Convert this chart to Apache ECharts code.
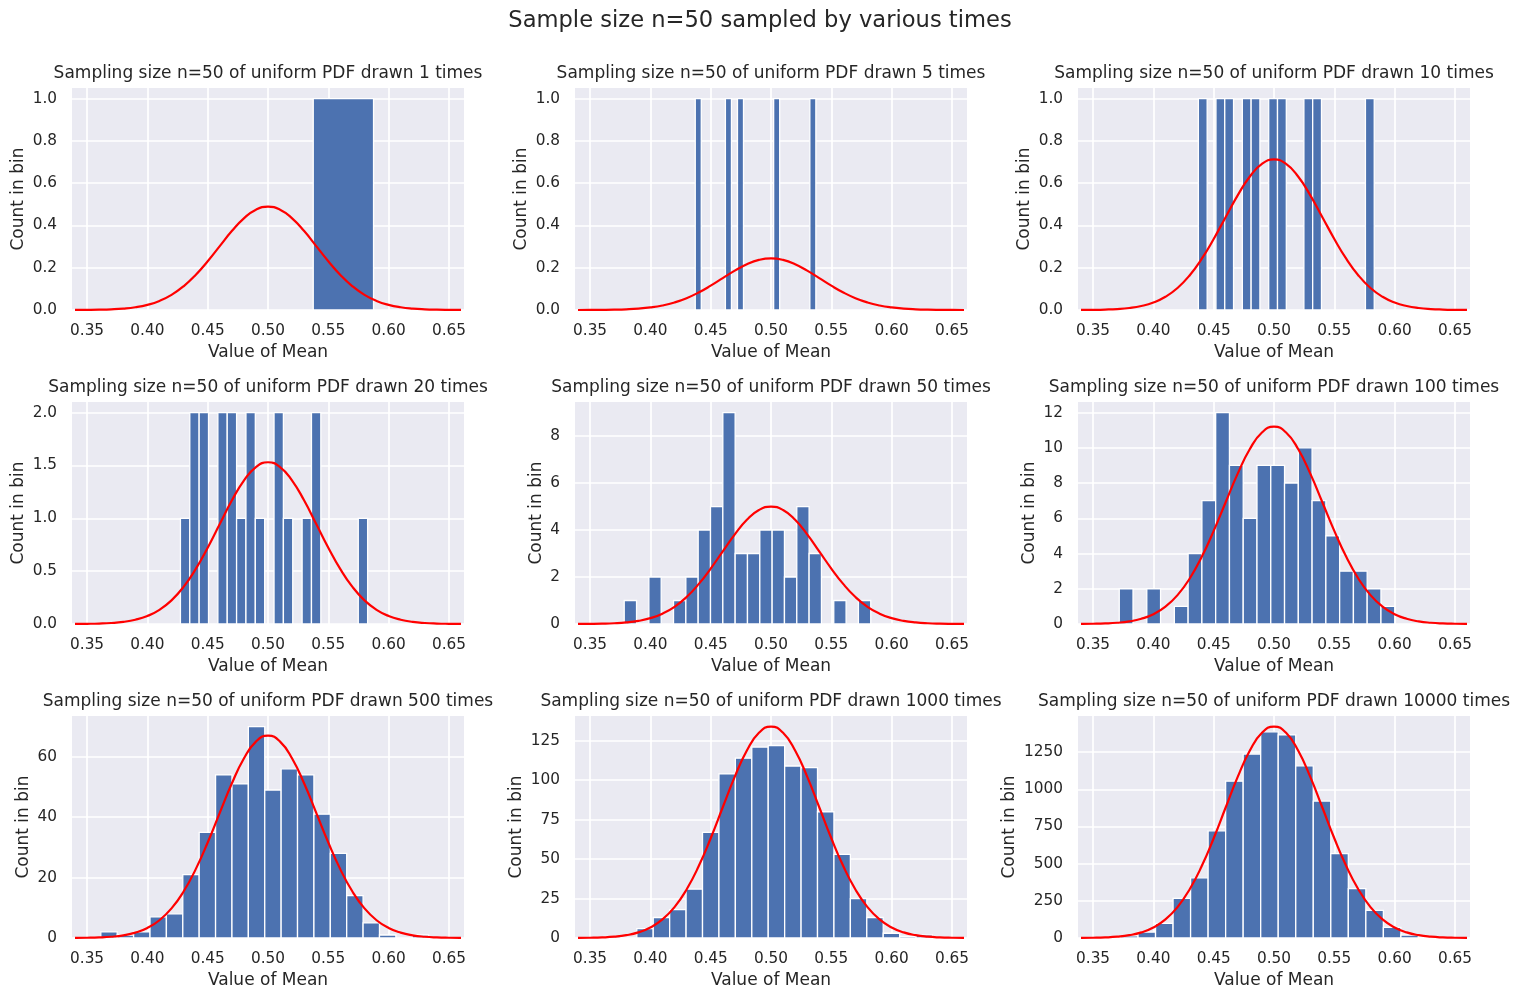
<!DOCTYPE html>
<html>
<head>
<meta charset="utf-8">
<title>Sample size n=50 sampled by various times</title>
<script src="https://cdn.jsdelivr.net/npm/echarts@6/dist/echarts.min.js"></script>
<style>
  html, body { margin: 0; padding: 0; background: #ffffff; }
  #main { width: 1520px; height: 999px; }
</style>
</head>
<body>
<div id="main"></div>
<script>
// how many sample means each panel holds
const drawTimes = [1, 5, 10, 20, 50, 100, 500, 1000, 10000];

// 20 bins per histogram: first edge and bin width
const binStart = [0.0375, 0.4372, 0.4373, 0.4274, 0.3783, 0.3717, 0.3614, 0.3615, 0.3582];
const binWidth = [0.05, 0.005, 0.00729, 0.00776, 0.01022, 0.01142, 0.01359, 0.01362, 0.01453];

// counts in bin
const counts1 = [0, 0, 0, 0, 0, 0, 0, 0, 0, 0, 1, 0, 0, 0, 0, 0, 0, 0, 0, 0];
const counts2 = [1, 0, 0, 0, 0, 1, 0, 1, 0, 0, 0, 0, 0, 1, 0, 0, 0, 0, 0, 1];
const counts3 = [1, 0, 1, 1, 0, 1, 1, 0, 1, 1, 0, 0, 1, 1, 0, 0, 0, 0, 0, 1];
const counts4 = [1, 2, 2, 0, 2, 2, 1, 2, 1, 0, 2, 1, 0, 1, 2, 0, 0, 0, 0, 1];
const counts5 = [1, 0, 2, 0, 1, 2, 4, 5, 9, 3, 3, 4, 4, 2, 5, 3, 0, 1, 0, 1];
const counts6 = [2, 0, 2, 0, 1, 4, 7, 12, 9, 6, 9, 9, 8, 10, 7, 5, 3, 3, 2, 1];
const counts7 = [2, 1, 2, 7, 8, 21, 35, 54, 51, 70, 49, 56, 54, 41, 28, 14, 5, 1, 0, 1];
const counts8 = [1, 0, 6, 13, 18, 31, 67, 104, 114, 121, 122, 109, 108, 80, 53, 25, 13, 3, 1, 2];
const counts9 = [3, 14, 40, 99, 267, 405, 721, 1055, 1237, 1387, 1366, 1158, 921, 567, 332, 186, 71, 20, 7, 1];

// red normal curve, sampled every 0.01
const curveX = [0.34, 0.35, 0.36, 0.37, 0.38, 0.39, 0.40, 0.41, 0.42, 0.43, 0.44, 0.45, 0.46, 0.47, 0.48, 0.49, 0.50,
                0.51, 0.52, 0.53, 0.54, 0.55, 0.56, 0.57, 0.58, 0.59, 0.60, 0.61, 0.62, 0.63, 0.64, 0.65, 0.66];
const curve1 = [0.0002, 0.0006, 0.0014, 0.0031, 0.0065, 0.0129, 0.0243, 0.0429, 0.0715, 0.1122, 0.1658, 0.2308, 0.3024, 0.3732, 0.4336, 0.4745, 0.489,
                0.4745, 0.4336, 0.3732, 0.3024, 0.2308, 0.1658, 0.1122, 0.0715, 0.0429, 0.0243, 0.0129, 0.0065, 0.0031, 0.0014, 0.0006, 0.0002];
const curve2 = [0.0001, 0.0003, 0.0007, 0.0015, 0.0032, 0.0064, 0.0121, 0.0214, 0.0357, 0.0560, 0.0827, 0.1151, 0.1509, 0.1862, 0.2164, 0.2368, 0.244,
                0.2368, 0.2164, 0.1862, 0.1509, 0.1151, 0.0827, 0.0560, 0.0357, 0.0214, 0.0121, 0.0064, 0.0032, 0.0015, 0.0007, 0.0003, 0.0001];
const curve3 = [0.0003, 0.0008, 0.0020, 0.0044, 0.0094, 0.0188, 0.0353, 0.0625, 0.1042, 0.1634, 0.2414, 0.3360, 0.4403, 0.5434, 0.6314, 0.6909, 0.712,
                0.6909, 0.6314, 0.5434, 0.4403, 0.3360, 0.2414, 0.1634, 0.1042, 0.0625, 0.0353, 0.0188, 0.0094, 0.0044, 0.0020, 0.0008, 0.0003];
const curve4 = [0.0007, 0.0018, 0.0042, 0.0095, 0.0202, 0.0404, 0.0759, 0.1343, 0.2238, 0.3511, 0.5188, 0.7220, 0.9462, 1.1677, 1.3568, 1.4847, 1.53,
                1.4847, 1.3568, 1.1677, 0.9462, 0.7220, 0.5188, 0.3511, 0.2238, 0.1343, 0.0759, 0.0404, 0.0202, 0.0095, 0.0042, 0.0018, 0.0007];
const curve5 = [0.0023, 0.0058, 0.0139, 0.0312, 0.0662, 0.132, 0.248, 0.439, 0.732, 1.148, 1.696, 2.360, 3.092, 3.816, 4.434, 4.852, 5.0,
                4.852, 4.434, 3.816, 3.092, 2.360, 1.696, 1.148, 0.732, 0.439, 0.248, 0.132, 0.0662, 0.0312, 0.0139, 0.0058, 0.0023];
const curve6 = [0.0052, 0.013, 0.031, 0.070, 0.148, 0.296, 0.556, 0.983, 1.639, 2.570, 3.798, 5.285, 6.926, 8.548, 9.932, 10.868, 11.2,
                10.868, 9.932, 8.548, 6.926, 5.285, 3.798, 2.570, 1.639, 0.983, 0.556, 0.296, 0.148, 0.070, 0.031, 0.013, 0.0052];
const curve7 = [0.031, 0.078, 0.186, 0.418, 0.886, 1.769, 3.323, 5.883, 9.802, 15.38, 22.72, 31.62, 41.43, 51.13, 59.42, 65.02, 67,
                65.02, 59.42, 51.13, 41.43, 31.62, 22.72, 15.38, 9.802, 5.883, 3.323, 1.769, 0.886, 0.418, 0.186, 0.078, 0.031];
const curve8 = [0.062, 0.155, 0.371, 0.836, 1.773, 3.538, 6.646, 11.77, 19.60, 30.75, 45.44, 63.23, 82.87, 102.27, 118.83, 130.03, 134,
                130.03, 118.83, 102.27, 82.87, 63.23, 45.44, 30.75, 19.60, 11.77, 6.646, 3.538, 1.773, 0.836, 0.371, 0.155, 0.062];
const curve9 = [0.65, 1.65, 3.94, 8.87, 18.81, 37.54, 70.53, 124.9, 208.0, 326.3, 482.2, 671.0, 879.4, 1085.3, 1261.0, 1379.9, 1422,
                1379.9, 1261.0, 1085.3, 879.4, 671.0, 482.2, 326.3, 208.0, 124.9, 70.53, 37.54, 18.81, 8.87, 3.94, 1.65, 0.65];

// tick labels
const xTicks = [0.35, 0.40, 0.45, 0.50, 0.55, 0.60, 0.65];
const yTicksUnit = [0, 0.2, 0.4, 0.6, 0.8, 1.0];
const yTicks20 = [0, 0.5, 1.0, 1.5, 2.0];
const yTicks50 = [0, 2, 4, 6, 8];
const yTicks100 = [0, 2, 4, 6, 8, 10, 12];
const yTicks500 = [0, 20, 40, 60];
const yTicks1000 = [0, 25, 50, 75, 100, 125];
const yTicks10000 = [0, 250, 500, 750, 1000, 1250];

const countsList = [counts1, counts2, counts3, counts4, counts5, counts6, counts7, counts8, counts9];
const curveList = [curve1, curve2, curve3, curve4, curve5, curve6, curve7, curve8, curve9];
const yTickList = [yTicksUnit, yTicksUnit, yTicksUnit, yTicks20, yTicks50, yTicks100, yTicks500, yTicks1000, yTicks10000];
const yDecimals = [1, 1, 1, 1, 0, 0, 0, 0, 0];

// layout
const gridLeft = [72, 575, 1078];
const gridTop = [88, 402, 716];
const gridW = 392;
const gridH = 222;
const yNameGap = [45, 45, 45, 45, 30, 40, 40, 50, 60];

const font = 'DejaVu Sans';
const ink = '#262626';

const chart = echarts.init(document.getElementById('main'), null, { renderer: 'canvas' });

const option = {
    animation: false,
    backgroundColor: '#ffffff',
    textStyle: { fontFamily: font, color: ink },
    title: [{
        text: 'Sample size n=50 sampled by various times',
        left: 'center',
        top: 8,
        padding: 0,
        textStyle: { fontFamily: font, fontSize: 22.6, fontWeight: 'normal', color: ink, lineHeight: 27 }
    }],
    grid: [],
    xAxis: [],
    yAxis: [],
    series: []
};

for (let i = 0; i < 9; i++) {
    const left = gridLeft[i % 3];
    const top = gridTop[Math.floor(i / 3)];

    option.grid.push({
        left: left, top: top, width: gridW, height: gridH,
        show: true, backgroundColor: '#eaeaf2', borderWidth: 0,
        outerBoundsMode: 'none'
    });

    option.title.push({
        text: 'Sampling size n=50 of uniform PDF drawn ' + drawTimes[i] + ' times',
        left: left + gridW / 2,
        top: top - 24,
        textAlign: 'center',
        padding: 0,
        textStyle: { fontFamily: font, fontSize: 17, fontWeight: 'normal', color: ink, lineHeight: 20 }
    });

    option.xAxis.push({
        type: 'value', gridIndex: i,
        min: 0.3375, max: 0.6625,
        name: 'Value of Mean', nameLocation: 'middle', nameGap: 34,
        nameTextStyle: { fontFamily: font, fontSize: 17, color: ink },
        axisLine: { show: false },
        axisTick: { show: false, customValues: xTicks },
        axisLabel: {
            customValues: xTicks, margin: 14,
            fontFamily: font, fontSize: 15.3, color: ink,
            formatter: v => v.toFixed(2)
        },
        splitLine: { show: true, lineStyle: { color: '#ffffff', width: 1.7 } }
    });

    const dec = yDecimals[i];
    option.yAxis.push({
        type: 'value', gridIndex: i,
        min: 0, max: v => v.max * 1.05,
        name: 'Count in bin', nameLocation: 'middle', nameGap: yNameGap[i], nameRotate: 90,
        nameTextStyle: { fontFamily: font, fontSize: 17, color: ink },
        axisLine: { show: false },
        axisTick: { show: false, customValues: yTickList[i] },
        axisLabel: {
            customValues: yTickList[i], margin: 15,
            fontFamily: font, fontSize: 15.3, color: ink,
            formatter: v => v.toFixed(dec)
        },
        splitLine: { show: true, lineStyle: { color: '#ffffff', width: 1.7 } }
    });

    // histogram bars: [left edge, right edge, count]
    const bars = [];
    countsList[i].forEach((c, k) => {
        if (c > 0) bars.push([binStart[i] + k * binWidth[i], binStart[i] + (k + 1) * binWidth[i], c]);
    });

    option.series.push({
        type: 'custom', xAxisIndex: i, yAxisIndex: i, clip: true, silent: true,
        encode: { x: [0, 1], y: 2 },
        data: bars,
        renderItem: (params, api) => {
            const p0 = api.coord([api.value(0), 0]);
            const p1 = api.coord([api.value(1), api.value(2)]);
            return {
                type: 'rect',
                shape: { x: p0[0], y: p1[1], width: p1[0] - p0[0], height: p0[1] - p1[1] },
                style: { fill: '#4c72b0', stroke: '#ffffff', lineWidth: 1.3 }
            };
        }
    });

    option.series.push({
        type: 'line', xAxisIndex: i, yAxisIndex: i, silent: true,
        data: curveX.map((x, k) => [x, curveList[i][k]]),
        showSymbol: false, smooth: 0.5, clip: true,
        lineStyle: { color: '#ff0000', width: 2.2 },
        z: 3
    });
}

chart.setOption(option);
</script>
</body>
</html>
